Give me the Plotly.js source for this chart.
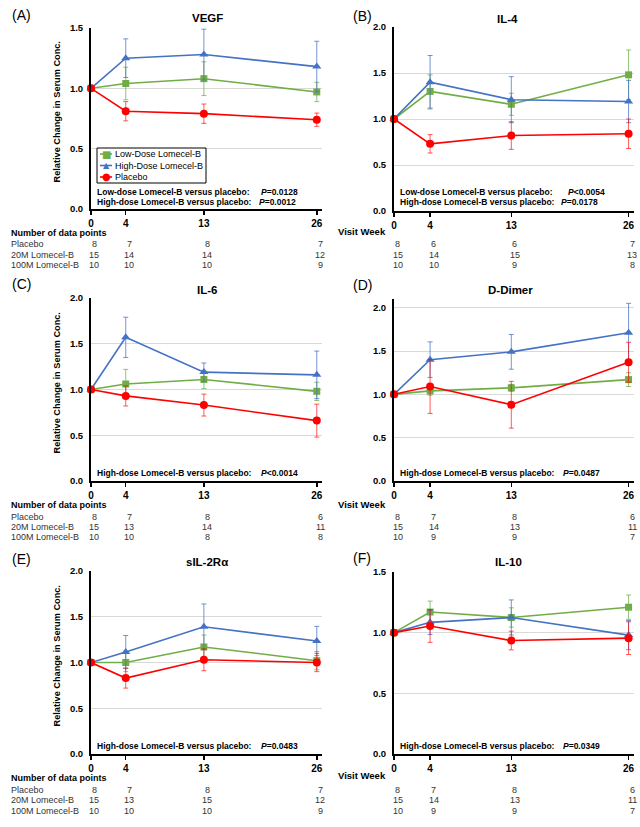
<!DOCTYPE html>
<html><head><meta charset="utf-8">
<script src="https://cdn.plot.ly/plotly-3.0.1.min.js"></script>
<style>html,body{margin:0;padding:0;background:#fff}#chart{width:640px;height:827px}</style>
</head><body><div id="chart"></div>
<script>
// ---------- DATA ----------
const weeks = [0, 4, 13, 26];
const weekLabels = ['0', '4', '13', '26'];
const panelTitles = ['VEGF', 'IL-4', 'IL-6', 'D-Dimer', 'sIL-2Rα', 'IL-10'];
const panelLetters = ['(A)', '(B)', '(C)', '(D)', '(E)', '(F)'];
const seriesNames = ['Low-Dose Lomecel-B', 'High-Dose Lomecel-B', 'Placebo'];
const tableRowLabels = ['Placebo', '20M Lomecel-B', '100M Lomecel-B'];

// (A) VEGF
const vegfLow = [1.0, 1.04, 1.08, 0.97];
const vegfLowErr = [0, 0.135, 0.14, 0.08];
const vegfHigh = [1.0, 1.25, 1.28, 1.18];
const vegfHighErr = [0, 0.16, 0.21, 0.21];
const vegfPlacebo = [1.0, 0.81, 0.79, 0.74];
const vegfPlaceboErr = [0, 0.08, 0.08, 0.055];
const vegfNPlacebo = [8, 7, 8, 7];
const vegfNLow = [15, 14, 14, 12];
const vegfNHigh = [10, 10, 10, 9];
const vegfP = [['Low-dose Lomecel-B versus placebo:', 'P', '=0.0128'], ['High-dose Lomecel-B versus placebo:', 'P', '=0.0012']];

// (B) IL-4
const il4Low = [1.0, 1.30, 1.16, 1.48];
const il4LowErr = [0, 0.18, 0.12, 0.27];
const il4High = [1.0, 1.40, 1.21, 1.19];
const il4HighErr = [0, 0.29, 0.25, 0.23];
const il4Placebo = [1.0, 0.73, 0.82, 0.84];
const il4PlaceboErr = [0, 0.10, 0.15, 0.16];
const il4NPlacebo = [8, 6, 6, 7];
const il4NLow = [15, 14, 15, 13];
const il4NHigh = [10, 10, 9, 8];
const il4P = [['Low-dose Lomecel-B versus placebo:', 'P', '<0.0054'], ['High-dose Lomecel-B versus placebo:', 'P', '=0.0178']];

// (C) IL-6
const il6Low = [1.0, 1.06, 1.11, 0.98];
const il6LowErr = [0, 0.16, 0.10, 0.10];
const il6High = [1.0, 1.57, 1.19, 1.16];
const il6HighErr = [0, 0.22, 0.10, 0.26];
const il6Placebo = [1.0, 0.93, 0.83, 0.66];
const il6PlaceboErr = [0, 0.11, 0.12, 0.18];
const il6NPlacebo = [8, 7, 8, 6];
const il6NLow = [15, 13, 14, 11];
const il6NHigh = [10, 10, 8, 8];
const il6P = [['High-dose Lomecel-B versus placebo:', 'P', '<0.0014']];

// (D) D-Dimer
const ddLow = [1.0, 1.04, 1.075, 1.17];
const ddLowErr = [0, 0.05, 0.04, 0.08];
const ddHigh = [1.0, 1.40, 1.49, 1.71];
const ddHighErr = [0, 0.205, 0.20, 0.34];
const ddPlacebo = [1.0, 1.09, 0.88, 1.37];
const ddPlaceboErr = [0, 0.31, 0.27, 0.23];
const ddNPlacebo = [8, 7, 8, 6];
const ddNLow = [15, 14, 13, 11];
const ddNHigh = [10, 9, 9, 7];
const ddP = [['High-dose Lomecel-B versus placebo:', 'P', '=0.0487']];

// (E) sIL-2Rα
const il2rLow = [1.0, 1.0, 1.17, 1.02];
const il2rLowErr = [0, 0.10, 0.13, 0.10];
const il2rHigh = [1.0, 1.115, 1.39, 1.235];
const il2rHighErr = [0, 0.18, 0.25, 0.16];
const il2rPlacebo = [1.0, 0.83, 1.03, 1.0];
const il2rPlaceboErr = [0, 0.11, 0.12, 0.10];
const il2rNPlacebo = [8, 7, 8, 7];
const il2rNLow = [15, 13, 15, 12];
const il2rNHigh = [10, 10, 10, 9];
const il2rP = [['High-dose Lomecel-B versus placebo:', 'P', '=0.0483']];

// (F) IL-10
const il10Low = [1.0, 1.17, 1.125, 1.21];
const il10LowErr = [0, 0.09, 0.08, 0.10];
const il10High = [1.0, 1.085, 1.125, 0.98];
const il10HighErr = [0, 0.10, 0.145, 0.12];
const il10Placebo = [1.0, 1.055, 0.935, 0.955];
const il10PlaceboErr = [0, 0.135, 0.077, 0.135];
const il10NPlacebo = [8, 7, 8, 6];
const il10NLow = [15, 14, 13, 11];
const il10NHigh = [10, 9, 9, 7];
const il10P = [['High-dose Lomecel-B versus placebo:', 'P', '=0.0349']];

// ---------- LAYOUT / STYLE ----------
const W = 640, H = 827;
const px = v => v / W;
const py = v => 1 - v / H;
const FONT = 'Liberation Sans, Arial, sans-serif';
const colors = ['#70ad47', '#4472c4', '#ff0000'];
const errColors = ['rgba(112,173,71,0.75)', 'rgba(68,114,196,0.75)', 'rgba(255,0,0,0.65)'];
const symbols = ['square', 'triangle-up', 'circle'];
const msizes = [7, 8, 8];
const legendGlyphs = ['■', '▲', '●'];
const legendGlyphSize = [10, 8, 10];

const panels = [
  {low: vegfLow, lowE: vegfLowErr, high: vegfHigh, highE: vegfHighErr, pl: vegfPlacebo, plE: vegfPlaceboErr,
   nP: vegfNPlacebo, nL: vegfNLow, nH: vegfNHigh, p: vegfP,
   xd: [91, 322], yd: [209, 28], yr: [0, 1.5], left: true, letter: [21, 15], title: [207, 18],
   pY: [192, 202], pX: 95, pPX: [259, 257], tableY: [233, 244, 255, 265]},
  {low: il4Low, lowE: il4LowErr, high: il4High, highE: il4HighErr, pl: il4Placebo, plE: il4PlaceboErr,
   nP: il4NPlacebo, nL: il4NLow, nH: il4NHigh, p: il4P,
   xd: [394, 634], yd: [211, 27], yr: [0, 2.0], left: false, letter: [362, 16], title: [507, 19],
   pY: [192, 202], pX: 398, pPX: [566, 559], tableY: [232, 244, 255, 265]},
  {low: il6Low, lowE: il6LowErr, high: il6High, highE: il6HighErr, pl: il6Placebo, plE: il6PlaceboErr,
   nP: il6NPlacebo, nL: il6NLow, nH: il6NHigh, p: il6P,
   xd: [91, 322], yd: [481, 298], yr: [0, 2.0], left: true, letter: [21, 284], title: [207, 290],
   pY: [473], pX: 95, pPX: [259], tableY: [505, 517, 527, 537]},
  {low: ddLow, lowE: ddLowErr, high: ddHigh, highE: ddHighErr, pl: ddPlacebo, plE: ddPlaceboErr,
   nP: ddNPlacebo, nL: ddNLow, nH: ddNHigh, p: ddP,
   xd: [394, 634], yd: [481, 299], yr: [0, 2.1], left: false, letter: [362, 285], title: [510, 290],
   pY: [473], pX: 398, pPX: [561], tableY: [504, 517, 527, 537]},
  {low: il2rLow, lowE: il2rLowErr, high: il2rHigh, highE: il2rHighErr, pl: il2rPlacebo, plE: il2rPlaceboErr,
   nP: il2rNPlacebo, nL: il2rNLow, nH: il2rNHigh, p: il2rP,
   xd: [91, 322], yd: [754, 571], yr: [0, 2.0], left: true, letter: [21, 559], title: [207, 562],
   pY: [746], pX: 95, pPX: [259], tableY: [778, 790, 800, 811]},
  {low: il10Low, lowE: il10LowErr, high: il10High, highE: il10HighErr, pl: il10Placebo, plE: il10PlaceboErr,
   nP: il10NPlacebo, nL: il10NLow, nH: il10NHigh, p: il10P,
   xd: [394, 634], yd: [754, 572], yr: [0, 1.5], left: false, letter: [362, 558], title: [508, 562],
   pY: [746], pX: 398, pPX: [561], tableY: [775, 790, 800, 811]}
];

const traces = [];
const annotations = [];
const shapes = [];
const layout = {
  width: W, height: H, margin: {l: 0, r: 0, t: 0, b: 0},
  paper_bgcolor: '#fff', plot_bgcolor: '#fff',
  font: {family: FONT, color: '#000'},
  showlegend: false,
  annotations: annotations,
  shapes: shapes
};

panels.forEach((pn, i) => {
  const k = i === 0 ? '' : String(i + 1);
  const xa = 'x' + k, ya = 'y' + k;
  layout['xaxis' + k] = {
    domain: [px(pn.xd[0]), px(pn.xd[1])], range: [0, 26.6], anchor: ya,
    tickvals: weeks, ticktext: weekLabels, showgrid: false, zeroline: false,
    showline: true, linecolor: '#000', linewidth: 2,
    ticks: 'outside', ticklen: 4, tickwidth: 1.5, tickcolor: '#000',
    tickfont: {size: 10, family: FONT, weight: 'bold', color: '#000'}, fixedrange: true
  };
  layout['yaxis' + k] = {
    domain: [py(pn.yd[0]), py(pn.yd[1])], range: pn.yr, anchor: xa,
    dtick: 0.5, tick0: 0, tickformat: '.1f', showgrid: true, gridcolor: '#d9d9d9', gridwidth: 1,
    zeroline: false, showline: true, linecolor: '#000', linewidth: 2, ticks: '',
    ticklabelstandoff: 4,
    tickfont: {size: 9.5, family: FONT, weight: 'bold', color: '#000'}, fixedrange: true
  };
  const ser = [[pn.low, pn.lowE], [pn.high, pn.highE], [pn.pl, pn.plE]];
  ser.forEach((s, j) => {
    traces.push({
      type: 'scatter', mode: 'lines+markers', x: weeks, y: s[0], xaxis: xa, yaxis: ya,
      name: seriesNames[j], showlegend: false, cliponaxis: false,
      line: {color: colors[j], width: 1.6},
      marker: {color: colors[j], symbol: symbols[j], size: msizes[j]},
      error_y: {type: 'data', array: s[1], visible: true, color: errColors[j], thickness: 1, width: 2.5}
    });
  });
  annotations.push({xref: 'paper', yref: 'paper', x: px(pn.letter[0]), y: py(pn.letter[1]),
    text: panelLetters[i], showarrow: false, font: {size: 14, family: FONT}, xanchor: 'center', yanchor: 'middle'});
  annotations.push({xref: 'paper', yref: 'paper', x: px(pn.title[0]), y: py(pn.title[1]),
    text: '<b>' + panelTitles[i] + '</b>', showarrow: false, font: {size: 11.5, family: FONT}, xanchor: 'center', yanchor: 'middle'});
  if (pn.left) {
    annotations.push({xref: 'paper', yref: 'paper', x: px(56), y: py((pn.yd[0] + pn.yd[1]) / 2 - 6),
      text: '<b>Relative Change in Serum Conc.</b>', textangle: -90, showarrow: false,
      font: {size: 9.2, family: FONT}, xanchor: 'center', yanchor: 'middle'});
  }
  pn.p.forEach((line, m) => {
    annotations.push({xref: 'paper', yref: 'paper', x: px(pn.pX), y: py(pn.pY[m]),
      text: '<b>' + line[0] + '</b>', showarrow: false, font: {size: 8.5, family: FONT},
      xanchor: 'left', yanchor: 'middle'});
    annotations.push({xref: 'paper', yref: 'paper', x: px(pn.pPX[m]), y: py(pn.pY[m]),
      text: '<b><i>' + line[1] + '</i>' + line[2].replace('<', '&lt;') + '</b>', showarrow: false, font: {size: 8.5, family: FONT},
      xanchor: 'left', yanchor: 'middle'});
  });
  if (pn.left) {
    annotations.push({xref: 'paper', yref: 'paper', x: px(9), y: py(pn.tableY[0]),
      text: '<b>Number of data points</b>', showarrow: false, font: {size: 9, family: FONT},
      xanchor: 'left', yanchor: 'middle'});
    tableRowLabels.forEach((lab, r) => {
      annotations.push({xref: 'paper', yref: 'paper', x: px(9), y: py(pn.tableY[r + 1]),
        text: lab, showarrow: false, font: {size: 9, family: FONT, color: '#333'},
        xanchor: 'left', yanchor: 'middle'});
    });
  } else {
    annotations.push({xref: 'paper', yref: 'paper', x: px(362), y: py(pn.tableY[0]),
      text: '<b>Visit Week</b>', showarrow: false, font: {size: 9.5, family: FONT},
      xanchor: 'center', yanchor: 'middle'});
  }
  const rows = [pn.nP, pn.nL, pn.nH];
  rows.forEach((row, r) => {
    row.forEach((n, c) => {
      annotations.push({xref: xa, yref: 'paper', x: weeks[c] + 0.4, y: py(pn.tableY[r + 1]),
        text: String(n), showarrow: false, font: {size: 9, family: FONT, color: '#333'},
        xanchor: 'center', yanchor: 'middle'});
    });
  });
});

// ---------- compact legend (panel A) ----------
const legBox = {x0: 97, x1: 206, y0: 148, y1: 183};
const legRows = [154, 165.5, 177];
shapes.push({type: 'rect', xref: 'paper', yref: 'paper', x0: px(legBox.x0), x1: px(legBox.x1),
  y0: py(legBox.y1), y1: py(legBox.y0), line: {color: '#000', width: 1}, fillcolor: '#fff', layer: 'above'});
seriesNames.forEach((nm, j) => {
  shapes.push({type: 'line', xref: 'paper', yref: 'paper', x0: px(100), x1: px(112),
    y0: py(legRows[j]), y1: py(legRows[j]), line: {color: colors[j], width: 1.6}, layer: 'above'});
  annotations.push({xref: 'paper', yref: 'paper', x: px(106), y: py(legRows[j]),
    text: legendGlyphs[j], showarrow: false, font: {size: legendGlyphSize[j], family: 'DejaVu Sans', color: colors[j]},
    xanchor: 'center', yanchor: 'middle'});
  annotations.push({xref: 'paper', yref: 'paper', x: px(113), y: py(legRows[j]),
    text: nm, showarrow: false, font: {size: 9, family: FONT, color: '#000'},
    xanchor: 'left', yanchor: 'middle'});
});

Plotly.newPlot('chart', traces, layout, {displayModeBar: false, staticPlot: true});
</script>
</body></html>
